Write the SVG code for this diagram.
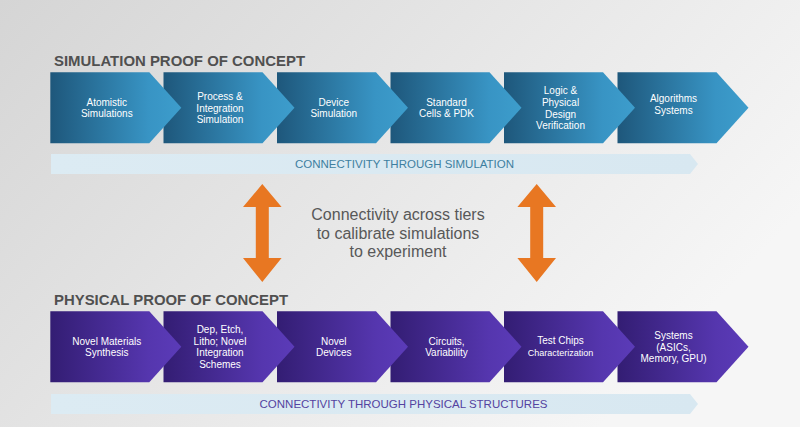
<svg xmlns="http://www.w3.org/2000/svg" width="800" height="427" viewBox="0 0 800 427">
<defs>
<linearGradient id="bg" x1="0" y1="0" x2="1" y2="0.5">
<stop offset="0" stop-color="#d5d5d5"/>
<stop offset="0.6" stop-color="#e9e9e9"/>
<stop offset="1" stop-color="#f6f6f6"/>
</linearGradient>
<linearGradient id="gb" x1="0" y1="0" x2="1" y2="0">
<stop offset="0" stop-color="#1e577b"/>
<stop offset="0.75" stop-color="#3894c4"/>
<stop offset="1" stop-color="#3d9dcc"/>
</linearGradient>
<linearGradient id="gp" x1="0" y1="0" x2="1" y2="0">
<stop offset="0" stop-color="#331d73"/>
<stop offset="0.75" stop-color="#5536ae"/>
<stop offset="1" stop-color="#5b3bb8"/>
</linearGradient>
<linearGradient id="gbar" x1="0" y1="0" x2="1" y2="0">
<stop offset="0" stop-color="#dcebf3"/>
<stop offset="1" stop-color="#d8e8f1"/>
</linearGradient>
<path id="chev" d="M0,0 H99 L131,35.5 L99,71 H0 Z"/>
</defs>
<style>
.title{font-family:"Liberation Sans",Arial,sans-serif;font-weight:bold;font-size:15.5px;fill:#505050}
.lbl{font-family:"Liberation Sans",Arial,sans-serif;font-size:10px;fill:#ffffff;text-anchor:middle}
.sm{font-size:9px}
.bart{font-family:"Liberation Sans",Arial,sans-serif;font-size:11.5px;text-anchor:middle}
.mid{font-family:"Liberation Sans",Arial,sans-serif;font-size:16px;fill:#585858;text-anchor:middle}
.arr{fill:#e87722}
</style>
<rect width="800" height="427" fill="url(#bg)"/>

<text class="title" x="54" y="66" textLength="251" lengthAdjust="spacingAndGlyphs">SIMULATION PROOF OF CONCEPT</text>
<text class="title" x="54" y="304.5" textLength="234" lengthAdjust="spacingAndGlyphs">PHYSICAL PROOF OF CONCEPT</text>

<!-- top row (drawn right to left so tips overlap next) -->
<g id="sim6" transform="translate(617.5,72.3)"><use href="#chev" fill="url(#gb)"/><text class="lbl" x="56" y="29.8">Algorithms</text><text class="lbl" x="56" y="41.5">Systems</text></g>
<g id="sim5" transform="translate(504,72.3)"><use href="#chev" fill="url(#gb)"/><text class="lbl" x="56.5" y="22">Logic &amp;</text><text class="lbl" x="56.5" y="33.7">Physical</text><text class="lbl" x="56.5" y="45.4">Design</text><text class="lbl" x="56.5" y="57.1">Verification</text></g>
<g id="sim4" transform="translate(390.5,72.3)"><use href="#chev" fill="url(#gb)"/><text class="lbl" x="56" y="33.5">Standard</text><text class="lbl" x="56" y="45.2">Cells &amp; PDK</text></g>
<g id="sim3" transform="translate(277,72.3)"><use href="#chev" fill="url(#gb)"/><text class="lbl" x="56.8" y="33.5">Device</text><text class="lbl" x="56.8" y="45.2">Simulation</text></g>
<g id="sim2" transform="translate(163.5,72.3)"><use href="#chev" fill="url(#gb)"/><text class="lbl" x="56.5" y="27.7">Process &amp;</text><text class="lbl" x="56.5" y="39.4">Integration</text><text class="lbl" x="56.5" y="51.1">Simulation</text></g>
<g id="sim1" transform="translate(50.3,72.3)"><use href="#chev" fill="url(#gb)"/><text class="lbl" x="56.5" y="33.5">Atomistic</text><text class="lbl" x="56.5" y="45.2">Simulations</text></g>

<g id="simbar"><path d="M51,154 H690 L698,164 L690,174 H51 Z" fill="url(#gbar)"/><text class="bart" x="404.5" y="168.3" fill="#3e7fa0">CONNECTIVITY THROUGH SIMULATION</text></g>

<g id="connectors">
<path class="arr" d="M262.3,184 L281.6,207 H268.8 V258 H281.6 L262.3,282 L243,258 H255.8 V207 H243 Z"/>
<path class="arr" d="M536.7,184 L556,207 H543.2 V258 H556 L536.7,282 L517.4,258 H530.2 V207 H517.4 Z"/>
</g>

<g id="calib"><text class="mid" x="398" y="220">Connectivity across tiers</text><text class="mid" x="398" y="238.5">to calibrate simulations</text><text class="mid" x="398" y="257">to experiment</text></g>

<!-- bottom row -->
<g id="phy6" transform="translate(617.5,311.3)"><use href="#chev" fill="url(#gp)"/><text class="lbl" x="56" y="27.7">Systems</text><text class="lbl" x="56" y="39.4">(ASICs,</text><text class="lbl" x="56" y="51.1">Memory, GPU)</text></g>
<g id="phy5" transform="translate(504,311.3)"><use href="#chev" fill="url(#gp)"/><text class="lbl" x="56.5" y="33">Test Chips</text><text class="lbl sm" x="56.5" y="44.5">Characterization</text></g>
<g id="phy4" transform="translate(390.5,311.3)"><use href="#chev" fill="url(#gp)"/><text class="lbl" x="56" y="33.5">Circuits,</text><text class="lbl" x="56" y="45.2">Variability</text></g>
<g id="phy3" transform="translate(277,311.3)"><use href="#chev" fill="url(#gp)"/><text class="lbl" x="56.8" y="33.5">Novel</text><text class="lbl" x="56.8" y="45.2">Devices</text></g>
<g id="phy2" transform="translate(163.5,311.3)"><use href="#chev" fill="url(#gp)"/><text class="lbl" x="56.5" y="21.8">Dep, Etch,</text><text class="lbl" x="56.5" y="33.5">Litho; Novel</text><text class="lbl" x="56.5" y="45.2">Integration</text><text class="lbl" x="56.5" y="56.9">Schemes</text></g>
<g id="phy1" transform="translate(50.3,311.3)"><use href="#chev" fill="url(#gp)"/><text class="lbl" x="56.5" y="33.5">Novel Materials</text><text class="lbl" x="56.5" y="45.2">Synthesis</text></g>

<g id="phybar"><path d="M51,394 H690 L698,404 L690,414 H51 Z" fill="url(#gbar)"/><text class="bart" x="403.5" y="408" fill="#5443a0">CONNECTIVITY THROUGH PHYSICAL STRUCTURES</text></g>
</svg>
